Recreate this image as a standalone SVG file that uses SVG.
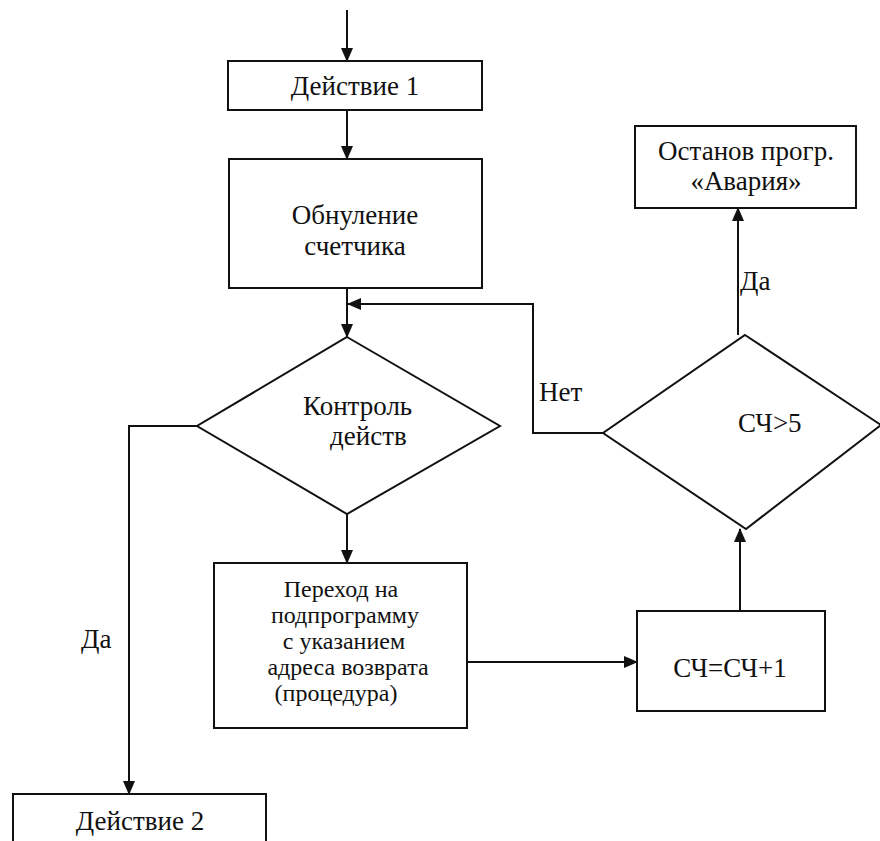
<svg xmlns="http://www.w3.org/2000/svg" width="880" height="841" viewBox="0 0 880 841">
<defs>
<marker id="ah" markerUnits="userSpaceOnUse" markerWidth="14" markerHeight="14" viewBox="0 0 14 14" refX="13" refY="7" orient="auto">
<path d="M0,1 L14,7 L0,13 Z" fill="#111"/>
</marker>
</defs>
<style>
.box{fill:#fff;stroke:#111;stroke-width:2}
.t{font-family:"Liberation Serif","Times New Roman",serif;font-size:27px;fill:#111}
.s{font-size:24px}
.c{text-anchor:middle}
.ln{fill:none;stroke:#111;stroke-width:2;marker-end:url(#ah)}
</style>
<rect width="880" height="841" fill="#fff"/>
<g id="connectors">
<path class="ln" d="M347,10 V61"/>
<path class="ln" d="M347,110 V159"/>
<path class="ln" d="M347,288 V337"/>
<path class="ln" d="M603,433 H533 V304 H348"/>
<path class="ln" d="M197,426 H129 V794"/>
<path class="ln" d="M347,514 V563"/>
<path class="ln" d="M467,662 H637"/>
<path class="ln" d="M740,611 V529"/>
<path class="ln" d="M738,335 V208"/>
</g>
<g id="action1">
<rect class="box" x="228" y="61" width="254" height="49"/>
<text class="t c" x="355" y="95">Действие 1</text>
</g>
<g id="reset">
<rect class="box" x="229" y="159" width="253" height="129"/>
<text class="t c" x="355" y="224">Обнуление</text>
<text class="t c" x="355" y="255">счетчика</text>
</g>
<g id="control">
<polygon class="box" points="347,337 500,426 347,514 197,426"/>
<text class="t" x="303" y="415">Контроль</text>
<text class="t" x="330" y="445">действ</text>
</g>
<g id="call">
<rect class="box" x="214" y="563" width="253" height="165"/>
<text class="t s c" x="341" y="597">Переход на</text>
<text class="t s c" x="345" y="623">подпрограмму</text>
<text class="t s c" x="344" y="649">с указанием</text>
<text class="t s c" x="348" y="675">адреса возврата</text>
<text class="t s c" x="336" y="701">(процедура)</text>
</g>
<g id="increment">
<rect class="box" x="637" y="611" width="188" height="100"/>
<text class="t c" x="730" y="677">СЧ=СЧ+1</text>
</g>
<g id="check">
<polygon class="box" points="745,335 881,425 746,529 603,433"/>
<text class="t" x="738" y="432">СЧ&gt;5</text>
</g>
<g id="stop">
<rect class="box" x="635" y="126" width="221" height="82"/>
<text class="t c" x="746" y="160">Останов прогр.</text>
<text class="t c" x="746" y="190">«Авария»</text>
</g>
<g id="action2">
<rect class="box" x="13" y="794" width="253" height="70"/>
<text class="t c" x="140" y="830">Действие 2</text>
</g>
<g id="labels">
<text class="t" x="740" y="290">Да</text>
<text class="t" x="539" y="401">Нет</text>
<text class="t" x="81" y="648">Да</text>
</g>
</svg>
